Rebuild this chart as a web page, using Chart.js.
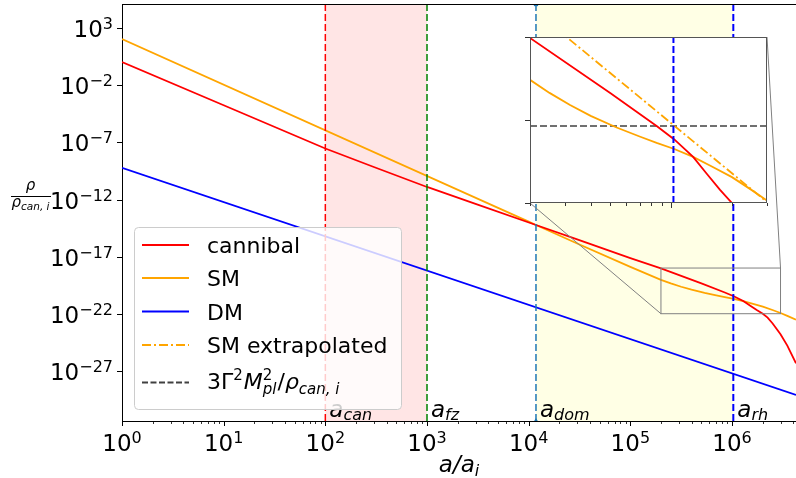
<!DOCTYPE html>
<html>
<head>
<meta charset="utf-8">
<title>cannibal</title>
<script src="https://cdn.jsdelivr.net/npm/chart.js@4.4.1/dist/chart.umd.min.js"></script>
<style>
	body { margin: 0; background: #ffffff; }
	#wrap { position: relative; width: 796px; height: 478px; overflow: hidden; }
	#mainChart { position: absolute; left: 0; top: 0; }
	#insetChart { position: absolute; left: 522px; top: 29px; }
</style>
</head>
<body>
<div id="wrap">
	<canvas id="mainChart" width="796" height="478"></canvas>
	<canvas id="insetChart" width="254" height="186"></canvas>
</div>
<script>
//축 범위
var xMin = 1, xMax = 4.26e6;
var yMin = 4.1e-32, yMax = 1.34e5;
var insetX = [2e5, 3e6];
var insetY = [1e-22, 1e-18];

//눈금 라벨 (10의 지수)
var xTickExp = [0, 1, 2, 3, 4, 5, 6];
var yTickExp = [3, -2, -7, -12, -17, -22, -27];
var insetYTickExp = [-18, -20, -22];

//cannibal
var canA = [1, 10, 100, 300, 1000, 3000, 1.18e4, 3e4, 1e5, 2e5, 5e5, 8.5e5, 1.04e6, 1.29e6, 1.5e6, 1.75e6, 2.01e6, 2.24e6, 2.51e6, 3e6, 3.5e6, 4.26e6];
var canRho = [1.12, 1.82e-4, 2.95e-8, 7.1e-10, 1.26e-11, 4.2e-13, 5.9e-15, 3.2e-16, 7.5e-18, 9.5e-19, 4.5e-20, 7.2e-21, 3.4e-21, 1.29e-21, 5.2e-22, 2.1e-22, 1.0e-22, 4.5e-23, 1.4e-23, 1.6e-24, 1.6e-25, 4.5e-27];

//SM
var smA = [1, 1e4, 1.18e4, 3e4, 1e5, 2e5, 2.5e5, 3.16e5, 4e5, 5.38e5, 7e5, 8.5e5, 1.04e6, 1.29e6, 1.58e6, 2.01e6, 2.5e6, 3e6, 3.5e6, 4.26e6];
var smRho = [115, 1.15e-14, 5.9e-15, 1.4e-16, 1.26e-18, 9.3e-20, 4.5e-20, 2.3e-20, 1.26e-20, 6.6e-21, 4.0e-21, 2.8e-21, 2.0e-21, 1.29e-21, 7.8e-22, 4.2e-22, 2.1e-22, 1.15e-22, 6.5e-23, 3.0e-23];

//DM
var dmA = [1, 4.26e6];
var dmRho = [5.9e-10, 7.6e-30];

//SM extrapolated, 3Γ²M²/ρ
var smExtA = [2e5, 3e6];
var smExtRho = [5.3e-18, 1.05e-22];
var decayA = [2e5, 3e6];
var decayRho = [7.2e-21, 7.2e-21];

//특성 스케일
var markNames = ['can', 'fz', 'dom', 'rh'];
var markA = [100, 1000, 1.18e4, 1.03e6];
var markColors = ['#ff0000', '#008000', '#1f77b4', '#0000ff'];

//범례
var legendNames = ['cannibal', 'SM', 'DM', 'SM extrapolated'];
var legendColors = ['#ff0000', '#ffa500', '#0000ff', '#ffa500'];

var FONT = '"DejaVu Sans"';

function toPts(xArr, yArr){
	return xArr.map(function (v, i){ return { x: v, y: yArr[i] }; });
}

function curve(xArr, yArr, color, dash){
	return {
		data: toPts(xArr, yArr),
		borderColor: color,
		borderWidth: 1.8,
		borderDash: dash || [],
		pointRadius: 0,
		showLine: true,
		fill: false
	};
}

function vline(a, lo, hi, color, width){
	return {
		data: [{ x: a, y: lo }, { x: a, y: hi }],
		borderColor: color,
		borderWidth: width,
		borderDash: [7, 3],
		pointRadius: 0,
		showLine: true,
		fill: false
	};
}

//10^n 눈금 라벨
function drawPow(ctx, e, x, baseY, align){
	var base = '10';
	var sup = String(e).replace('-', '\u2212');
	ctx.font = '23px ' + FONT;
	var wb = ctx.measureText(base).width;
	ctx.font = '16px ' + FONT;
	var ws = ctx.measureText(sup).width;
	var left = align == 'center' ? x - (wb + ws) / 2 : x - wb - ws;
	ctx.textAlign = 'left';
	ctx.textBaseline = 'alphabetic';
	ctx.fillStyle = '#000000';
	ctx.font = '23px ' + FONT;
	ctx.fillText(base, left, baseY);
	ctx.font = '16px ' + FONT;
	ctx.fillText(sup, left + wb, baseY - 8);
}

//아래첨자 텍스트
function drawSub(ctx, main, sub, x, baseY, size, subSize, dy){
	ctx.textAlign = 'left';
	ctx.textBaseline = 'alphabetic';
	ctx.font = 'italic ' + size + 'px ' + FONT;
	ctx.fillText(main, x, baseY);
	var w = ctx.measureText(main).width;
	ctx.font = 'italic ' + subSize + 'px ' + FONT;
	ctx.fillText(sub, x + w, baseY + dy);
	return w + ctx.measureText(sub).width;
}

//범례
function drawLegend(ctx){
	var rows = [245, 278, 311.5, 345, 382.5];
	var dashes = [[], [], [], [9, 3, 2, 3], [6, 2.5]];
	ctx.save();
	ctx.beginPath();
	ctx.roundRect(134.5, 227.5, 267, 182, 4);
	ctx.fillStyle = 'rgba(255,255,255,0.8)';
	ctx.fill();
	ctx.strokeStyle = '#cccccc';
	ctx.lineWidth = 1;
	ctx.stroke();

	for (var i = 0; i < rows.length; i++){
		ctx.beginPath();
		ctx.setLineDash(dashes[i]);
		ctx.strokeStyle = i < 4 ? legendColors[i] : 'rgba(0,0,0,0.75)';
		ctx.lineWidth = 1.8;
		ctx.moveTo(142, rows[i]);
		ctx.lineTo(189, rows[i]);
		ctx.stroke();
	}
	ctx.setLineDash([]);
	ctx.fillStyle = '#000000';
	ctx.textAlign = 'left';
	ctx.textBaseline = 'alphabetic';
	ctx.font = '22px ' + FONT;
	for (var j = 0; j < legendNames.length; j++){
		ctx.fillText(legendNames[j], 207, rows[j] + 8.3);
	}

	//3Γ²M²_pl/ρ_can,i
	var x = 207, b = rows[4] + 6;
	ctx.font = '22px ' + FONT;
	ctx.fillText('3\u0393', x, b);
	x += ctx.measureText('3\u0393').width;
	ctx.font = '15px ' + FONT;
	ctx.fillText('2', x, b - 9);
	x += ctx.measureText('2').width + 1;
	ctx.font = 'italic 22px ' + FONT;
	ctx.fillText('M', x, b);
	x += ctx.measureText('M').width;
	ctx.font = '15px ' + FONT;
	ctx.fillText('2', x, b - 9);
	ctx.font = 'italic 15px ' + FONT;
	ctx.fillText('pl', x, b + 5);
	x += ctx.measureText('pl').width + 1;
	ctx.font = '22px ' + FONT;
	ctx.fillText('/', x, b);
	x += ctx.measureText('/').width;
	drawSub(ctx, '\u03C1', 'can, i', x, b, 22, 15, 5);
	ctx.restore();
}

//메인 차트 장식
var mainDeco = {
	id: 'mainDeco',
	beforeDatasetsDraw: function (chart){
		var ctx = chart.ctx, xs = chart.scales.x, area = chart.chartArea;
		ctx.save();
		ctx.fillStyle = 'rgba(255,0,0,0.1)';
		ctx.fillRect(xs.getPixelForValue(markA[0]), area.top, xs.getPixelForValue(markA[1]) - xs.getPixelForValue(markA[0]), area.bottom - area.top);
		ctx.fillStyle = 'rgba(255,255,0,0.1)';
		ctx.fillRect(xs.getPixelForValue(markA[2]), area.top, xs.getPixelForValue(markA[3]) - xs.getPixelForValue(markA[2]), area.bottom - area.top);
		ctx.restore();
	},
	afterDatasetsDraw: function (chart){
		var ctx = chart.ctx, xs = chart.scales.x, ys = chart.scales.y, area = chart.chartArea;
		ctx.save();
		ctx.strokeStyle = '#000000';
		ctx.lineWidth = 1;

		//위쪽 테두리
		ctx.beginPath();
		ctx.moveTo(area.left, Math.round(area.top) + 0.5);
		ctx.lineTo(area.right, Math.round(area.top) + 0.5);
		ctx.stroke();

		//x 눈금
		xTickExp.forEach(function (e){
			for (var k = 1; k <= 9; k++){
				var v = k * Math.pow(10, e);
				if (v > xs.max) break;
				var px = Math.round(xs.getPixelForValue(v)) + 0.5;
				ctx.lineWidth = k == 1 ? 1 : 0.8;
				ctx.beginPath();
				ctx.moveTo(px, area.bottom);
				ctx.lineTo(px, area.bottom + (k == 1 ? 5 : 3));
				ctx.stroke();
			}
			drawPow(ctx, e, xs.getPixelForValue(Math.pow(10, e)), 451, 'center');
		});

		//y 눈금
		ctx.lineWidth = 1;
		yTickExp.forEach(function (e){
			var py = Math.round(ys.getPixelForValue(Math.pow(10, e))) + 0.5;
			ctx.beginPath();
			ctx.moveTo(area.left - 5, py);
			ctx.lineTo(area.left, py);
			ctx.stroke();
			drawPow(ctx, e, 113, py + 8.4, 'right');
		});

		//x 축 제목 a/a_i
		ctx.fillStyle = '#000000';
		ctx.font = 'italic 23px ' + FONT;
		var tw = ctx.measureText('a/a').width;
		ctx.font = 'italic 16px ' + FONT;
		tw += ctx.measureText('i').width;
		var tx = (area.left + area.right) / 2 - tw / 2;
		drawSub(ctx, 'a/a', 'i', tx, 472, 23, 16, 4);

		//y 축 제목 (분수)
		ctx.font = 'italic 15px ' + FONT;
		ctx.textAlign = 'center';
		ctx.fillText('\u03C1', 30.5, 190);
		ctx.beginPath();
		ctx.lineWidth = 1;
		ctx.moveTo(11, 196.5);
		ctx.lineTo(51, 196.5);
		ctx.stroke();
		drawSub(ctx, '\u03C1', 'can, i', 11.5, 207, 15, 10.5, 3);

		//특성 스케일 라벨
		for (var i = 0; i < markNames.length; i++){
			drawSub(ctx, 'a', markNames[i], xs.getPixelForValue(markA[i]) + 4, 416.5, 23, 16, 3.5);
		}

		//인셋 영역 표시
		var rl = xs.getPixelForValue(insetX[0]), rr = xs.getPixelForValue(insetX[1]);
		var rt = ys.getPixelForValue(insetY[1]), rb = ys.getPixelForValue(insetY[0]);
		ctx.strokeStyle = '#808080';
		ctx.lineWidth = 1;
		ctx.strokeRect(rl, rt, rr - rl, rb - rt);
		var box = insetChart.chartArea;
		var ox = 522, oy = 29;
		ctx.beginPath();
		ctx.moveTo(ox + box.right, oy + box.top);
		ctx.lineTo(rr, rt);
		ctx.moveTo(ox + box.left, oy + box.bottom);
		ctx.lineTo(rl, rb);
		ctx.stroke();

		drawLegend(ctx);
		ctx.restore();
	}
};

//인셋 장식
var insetDeco = {
	id: 'insetDeco',
	beforeDatasetsDraw: function (chart){
		var ctx = chart.ctx, a = chart.chartArea;
		ctx.save();
		ctx.fillStyle = '#ffffff';
		ctx.fillRect(a.left, a.top, a.right - a.left, a.bottom - a.top);
		ctx.restore();
	},
	afterDatasetsDraw: function (chart){
		var ctx = chart.ctx, a = chart.chartArea, xs = chart.scales.x, ys = chart.scales.y;
		ctx.save();
		ctx.strokeStyle = '#555555';
		ctx.lineWidth = 1;
		ctx.strokeRect(a.left + 0.5, a.top + 0.5, a.right - a.left - 1, a.bottom - a.top - 1);
		ctx.strokeStyle = '#333333';
		for (var e = 5; e <= 6; e++){
			for (var k = 1; k <= 9; k++){
				var v = k * Math.pow(10, e);
				if (v < xs.min * 0.999 || v > xs.max * 1.001) continue;
				var px = Math.round(xs.getPixelForValue(v)) + 0.5;
				ctx.beginPath();
				ctx.moveTo(px, a.bottom);
				ctx.lineTo(px, a.bottom + (k == 1 ? 5 : 3));
				ctx.stroke();
			}
		}
		insetYTickExp.forEach(function (ex){
			var py = Math.round(ys.getPixelForValue(Math.pow(10, ex))) + 0.5;
			ctx.beginPath();
			ctx.moveTo(a.left - 5, py);
			ctx.lineTo(a.left, py);
			ctx.stroke();
		});
		ctx.restore();
	}
};

var baseOpts = {
	responsive: false,
	animation: false,
	events: [],
	plugins: { legend: { display: false }, tooltip: { enabled: false } }
};

//인셋 차트
var insetDecay = curve(decayA, decayRho, 'rgba(0,0,0,0.75)', [7, 3]);
insetDecay.borderWidth = 1.5;
var insetChart = new Chart(document.getElementById('insetChart'), {
	type: 'scatter',
	data: {
		datasets: [
			vline(markA[3], insetY[0], insetY[1], markColors[3], 2),
			curve(canA, canRho, '#ff0000'),
			curve(smExtA, smExtRho, '#ffa500', [9, 3, 2, 3]),
			curve(smA, smRho, '#ffa500'),
			insetDecay
		]
	},
	options: Object.assign({}, baseOpts, {
		layout: { autoPadding: false, padding: { left: 8, top: 8, right: 9, bottom: 12 } },
		scales: {
			x: { type: 'logarithmic', min: insetX[0], max: insetX[1], display: false },
			y: { type: 'logarithmic', min: insetY[0], max: insetY[1], display: false }
		}
	}),
	plugins: [insetDeco]
});

//메인 차트
var domLine = vline(markA[2], yMin, yMax, markColors[2], 1.5);
domLine.pointRadius = 3;
domLine.pointStyle = ['triangle', 'rect'];
domLine.pointBackgroundColor = markColors[2];
domLine.pointBorderWidth = 0;

var mainChart = new Chart(document.getElementById('mainChart'), {
	type: 'scatter',
	data: {
		datasets: [
			vline(markA[0], yMin, yMax, markColors[0], 1.5),
			vline(markA[1], yMin, yMax, markColors[1], 1.5),
			domLine,
			vline(markA[3], yMin, yMax, markColors[3], 2),
			curve(canA, canRho, '#ff0000'),
			curve(smA, smRho, '#ffa500'),
			curve(dmA, dmRho, '#0000ff')
		]
	},
	options: Object.assign({}, baseOpts, {
		layout: { autoPadding: false, padding: { left: 0, top: 4, right: 0, bottom: 0 } },
		scales: {
			x: {
				type: 'logarithmic', min: xMin, max: xMax,
				grid: { display: false },
				ticks: { display: false },
				border: { color: '#000000', width: 1 },
				afterFit: function (s){ s.height = 57; }
			},
			y: {
				type: 'logarithmic', min: yMin, max: yMax,
				grid: { display: false },
				ticks: { display: false },
				border: { color: '#000000', width: 1 },
				afterFit: function (s){ s.width = 122; }
			}
		}
	}),
	plugins: [mainDeco]
});
</script>
</body>
</html>
